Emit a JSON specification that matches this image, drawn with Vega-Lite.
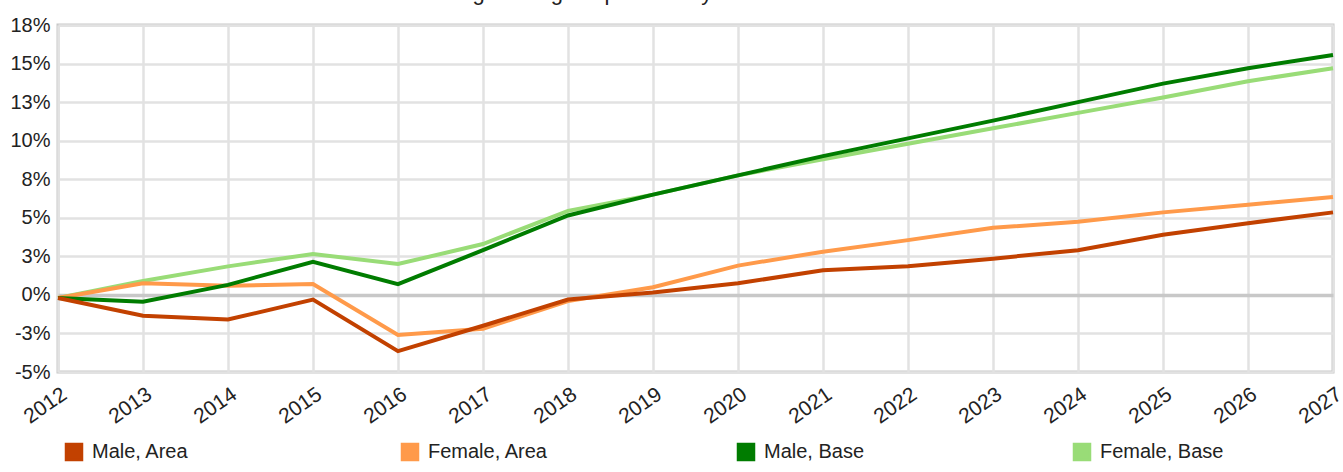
{
  "$schema": "https://vega.github.io/schema/vega-lite/v6.json",
  "autosize": {"type": "none"},
  "width": 1275,
  "height": 347,
  "padding": {"top": 25, "left": 58, "right": 10, "bottom": 100},
  "background": "white",
  "title": {
    "text": "Percentage change in persons by sex",
    "font": "Liberation Sans",
    "fontSize": 22,
    "fontWeight": "normal",
    "color": "#222222",
    "anchor": "middle",
    "baseline": "alphabetic",
    "offset": -7,
    "dx": -127
  },
  "config": {
    "view": {"stroke": "#c8c8c8", "strokeWidth": 3},
    "font": "Liberation Sans",
    "axis": {
      "labelFont": "Liberation Sans",
      "labelColor": "#222222",
      "domain": false,
      "ticks": false,
      "title": null
    }
  },
  "data": {
    "values": [
      {"year": 2012, "series": "Female, Base", "value": -0.2},
      {"year": 2013, "series": "Female, Base", "value": 0.9},
      {"year": 2014, "series": "Female, Base", "value": 1.85},
      {"year": 2015, "series": "Female, Base", "value": 2.65},
      {"year": 2016, "series": "Female, Base", "value": 2.0},
      {"year": 2017, "series": "Female, Base", "value": 3.3},
      {"year": 2018, "series": "Female, Base", "value": 5.45},
      {"year": 2019, "series": "Female, Base", "value": 6.5},
      {"year": 2020, "series": "Female, Base", "value": 7.75},
      {"year": 2021, "series": "Female, Base", "value": 8.8},
      {"year": 2022, "series": "Female, Base", "value": 9.8},
      {"year": 2023, "series": "Female, Base", "value": 10.8},
      {"year": 2024, "series": "Female, Base", "value": 11.8},
      {"year": 2025, "series": "Female, Base", "value": 12.8},
      {"year": 2026, "series": "Female, Base", "value": 13.85},
      {"year": 2027, "series": "Female, Base", "value": 14.7},

      {"year": 2012, "series": "Female, Area", "value": -0.2},
      {"year": 2013, "series": "Female, Area", "value": 0.75},
      {"year": 2014, "series": "Female, Area", "value": 0.6},
      {"year": 2015, "series": "Female, Area", "value": 0.7},
      {"year": 2016, "series": "Female, Area", "value": -2.6},
      {"year": 2017, "series": "Female, Area", "value": -2.2},
      {"year": 2018, "series": "Female, Area", "value": -0.4},
      {"year": 2019, "series": "Female, Area", "value": 0.5},
      {"year": 2020, "series": "Female, Area", "value": 1.9},
      {"year": 2021, "series": "Female, Area", "value": 2.8},
      {"year": 2022, "series": "Female, Area", "value": 3.55},
      {"year": 2023, "series": "Female, Area", "value": 4.35},
      {"year": 2024, "series": "Female, Area", "value": 4.75},
      {"year": 2025, "series": "Female, Area", "value": 5.35},
      {"year": 2026, "series": "Female, Area", "value": 5.85},
      {"year": 2027, "series": "Female, Area", "value": 6.35},

      {"year": 2012, "series": "Male, Base", "value": -0.2},
      {"year": 2013, "series": "Male, Base", "value": -0.45},
      {"year": 2014, "series": "Male, Base", "value": 0.65},
      {"year": 2015, "series": "Male, Base", "value": 2.15},
      {"year": 2016, "series": "Male, Base", "value": 0.7},
      {"year": 2017, "series": "Male, Base", "value": 2.9},
      {"year": 2018, "series": "Male, Base", "value": 5.15},
      {"year": 2019, "series": "Male, Base", "value": 6.5},
      {"year": 2020, "series": "Male, Base", "value": 7.75},
      {"year": 2021, "series": "Male, Base", "value": 9.0},
      {"year": 2022, "series": "Male, Base", "value": 10.15},
      {"year": 2023, "series": "Male, Base", "value": 11.3},
      {"year": 2024, "series": "Male, Base", "value": 12.5},
      {"year": 2025, "series": "Male, Base", "value": 13.7},
      {"year": 2026, "series": "Male, Base", "value": 14.7},
      {"year": 2027, "series": "Male, Base", "value": 15.55},

      {"year": 2012, "series": "Male, Area", "value": -0.2},
      {"year": 2013, "series": "Male, Area", "value": -1.35},
      {"year": 2014, "series": "Male, Area", "value": -1.6},
      {"year": 2015, "series": "Male, Area", "value": -0.3},
      {"year": 2016, "series": "Male, Area", "value": -3.65},
      {"year": 2017, "series": "Male, Area", "value": -2.0},
      {"year": 2018, "series": "Male, Area", "value": -0.3},
      {"year": 2019, "series": "Male, Area", "value": 0.15},
      {"year": 2020, "series": "Male, Area", "value": 0.75},
      {"year": 2021, "series": "Male, Area", "value": 1.6},
      {"year": 2022, "series": "Male, Area", "value": 1.85},
      {"year": 2023, "series": "Male, Area", "value": 2.35},
      {"year": 2024, "series": "Male, Area", "value": 2.9},
      {"year": 2025, "series": "Male, Area", "value": 3.9},
      {"year": 2026, "series": "Male, Area", "value": 4.65},
      {"year": 2027, "series": "Male, Area", "value": 5.35}
    ]
  },
  "mark": {"type": "line", "strokeWidth": 4, "clip": false},
  "encoding": {
    "x": {
      "field": "year",
      "type": "quantitative",
      "scale": {"domain": [2012, 2027], "nice": false, "zero": false},
      "axis": {
        "values": [2012, 2013, 2014, 2015, 2016, 2017, 2018, 2019, 2020, 2021, 2022, 2023, 2024, 2025, 2026, 2027],
        "format": "d",
        "labelAngle": -35,
        "labelAlign": "right",
        "labelBaseline": "top",
        "labelPadding": 11,
        "labelDx": -4,
        "labelFontSize": 21,
        "labelOverlap": false,
        "labelBound": false,
        "labelFlush": false,
        "grid": true,
        "gridColor": "#e2e2e2",
        "gridWidth": 2.5
      }
    },
    "y": {
      "field": "value",
      "type": "quantitative",
      "scale": {"domain": [-5, 17.5], "nice": false, "zero": false},
      "axis": {
        "values": [-5, -2.5, 0, 2.5, 5, 7.5, 10, 12.5, 15, 17.5],
        "labelExpr": "(datum.value < 0 ? '-' : '') + format(abs(datum.value), '.0f') + '%'",
        "labelFontSize": 20,
        "labelPadding": 8,
        "labelOverlap": false,
        "labelFlush": false,
        "grid": true,
        "gridColor": {"condition": {"test": "datum.value === 0", "value": "#c8c8c8"}, "value": "#e2e2e2"},
        "gridWidth": {"condition": {"test": "datum.value === 0", "value": 3.5}, "value": 2.5}
      }
    },
    "color": {
      "field": "series",
      "type": "nominal",
      "scale": {
        "domain": ["Male, Area", "Female, Area", "Male, Base", "Female, Base"],
        "range": ["#c24100", "#ff9a4a", "#007c00", "#99dc77"]
      },
      "legend": {
        "title": null,
        "orient": "none",
        "legendX": 6,
        "legendY": 417,
        "direction": "horizontal",
        "columns": 4,
        "gridAlign": "all",
        "columnPadding": 181,
        "symbolType": "square",
        "symbolSize": 256,
        "labelFont": "Liberation Sans",
        "labelFontSize": 20,
        "labelColor": "#222222",
        "labelOffset": 8,
        "labelLimit": 300,
        "encode": {
          "symbols": {
            "update": {
              "fill": {"scale": "color", "field": "value"},
              "stroke": {"value": "#000000"},
              "strokeWidth": {"value": 2.5},
              "fillOpacity": {"value": 1},
              "opacity": {"value": 1},
              "shape": {"value": "square"}
            }
          }
        }
      }
    }
  }
}
